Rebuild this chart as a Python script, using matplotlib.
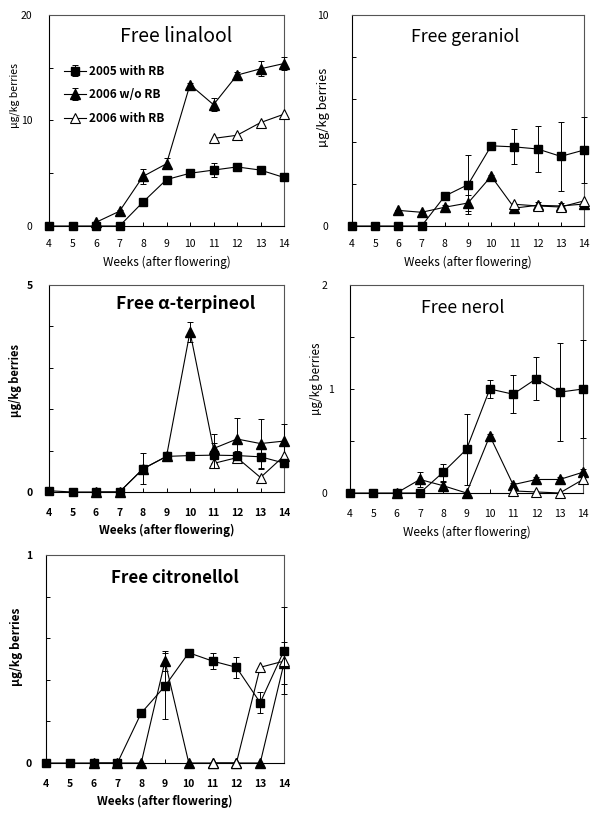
import matplotlib.pyplot as plt
import numpy as np

plt.rcParams['font.family'] = ['Noto Sans CJK JP', 'DejaVu Sans']

weeks = [4, 5, 6, 7, 8, 9, 10, 11, 12, 13, 14]
nan = np.nan

# Free linalool
lin_05 = [0, 0, 0, 0, 2.27, 4.4, 5.0, 5.3, 5.6, 5.3, 4.6]
lin_05_err = [0, 0, 0, 0, 0.1, 0.2, 0.2, 0.7, 0.2, 0.2, 0.2]
lin_06 = [nan, nan, 0.35, 1.4, 4.7, 5.9, 13.4, 11.5, 14.3, 14.9, 15.4]
lin_06_err = [0, 0, 0, 0.1, 0.7, 0.5, 0.2, 0.6, 0.3, 0.7, 0.6]
lin_06rb = [nan, nan, nan, nan, nan, nan, nan, 8.3, 8.6, 9.8, 10.6]

# Free geraniol
ger_05 = [0, 0, 0, 0, 1.42, 1.96, 3.8, 3.75, 3.65, 3.3, 3.6]
ger_05_err = [0, 0, 0, 0, 0.2, 1.4, 0.15, 0.83, 1.1, 1.65, 1.55]
ger_06 = [nan, nan, 0.74, 0.65, 0.89, 1.09, 2.36, 0.85, 0.98, 0.95, 1.04]
ger_06_err = [0, 0, 0, 0, 0.1, 0.4, 0.05, 0.05, 0.15, 0.15, 0.1]
ger_06rb = [nan, nan, nan, nan, nan, nan, nan, 1.03, 0.95, 0.9, 1.19]

# Free alpha-terpineol
ter_05 = [0.03, 0.0, 0.0, 0.0, 0.56, 0.86, 0.88, 0.89, 0.88, 0.85, 0.7]
ter_05_err = [0, 0, 0, 0, 0.37, 0.02, 0.02, 0.3, 0.1, 0.3, 0.1]
ter_06 = [nan, nan, 0.0, 0.0, 0.56, 0.86, 3.87, 1.05, 1.28, 1.17, 1.23]
ter_06_err = [0, 0, 0, 0, 0, 0, 0.24, 0.35, 0.5, 0.6, 0.42]
ter_06rb = [nan, nan, nan, nan, nan, nan, nan, 0.69, 0.83, 0.35, 0.87]

# Free nerol
ner_05 = [0, 0, 0, 0, 0.2, 0.42, 1.0, 0.95, 1.1, 0.97, 1.0]
ner_05_err = [0, 0, 0, 0, 0.08, 0.34, 0.09, 0.18, 0.21, 0.47, 0.47]
ner_06 = [nan, nan, 0.0, 0.13, 0.07, 0.0, 0.55, 0.08, 0.13, 0.13, 0.2]
ner_06_err = [0, 0, 0, 0.07, 0.04, 0, 0.02, 0.02, 0.02, 0.02, 0.03]
ner_06rb = [nan, nan, nan, nan, nan, nan, nan, 0.02, 0.01, 0.0, 0.13]

# Free citronellol
cit_05 = [0, 0, 0, 0, 0.24, 0.37, 0.53, 0.49, 0.46, 0.29, 0.54]
cit_05_err = [0, 0, 0, 0, 0.01, 0.16, 0.01, 0.04, 0.05, 0.05, 0.21]
cit_06 = [nan, nan, 0, 0, 0, 0.49, 0, 0, 0, 0, 0.48]
cit_06_err = [0, 0, 0, 0, 0, 0.05, 0, 0, 0, 0, 0.1]
cit_06rb = [nan, nan, nan, nan, nan, nan, nan, 0, 0, 0.46, 0.49]

titles = ['Free linalool', 'Free geraniol', 'Free α-terpineol', 'Free nerol', 'Free citronellol']
ymaxs = [20, 10, 5, 2, 1]
minor_steps = [5, 2, 1, 0.5, 0.2]
yticks = [[0, 10, 20], [0, 10], [0, 5], [0, 1, 2], [0, 1]]
series = [
    (lin_05, lin_05_err, lin_06, lin_06_err, lin_06rb),
    (ger_05, ger_05_err, ger_06, ger_06_err, ger_06rb),
    (ter_05, ter_05_err, ter_06, ter_06_err, ter_06rb),
    (ner_05, ner_05_err, ner_06, ner_06_err, ner_06rb),
    (cit_05, cit_05_err, cit_06, cit_06_err, cit_06rb),
]

# layout per panel (pixels): axes left, right, top, bottom
rects = [(49, 284, 15, 226), (352, 584, 15, 226), (49, 284, 285, 492),
         (350, 583, 285, 493), (46, 284, 555, 763)]
bold = [False, False, True, False, True]
title_pos = [(0.54, 0.90, 14), (0.487, 0.895, 12.8), (0.58, 0.91, 12.5),
             (0.485, 0.89, 12.8), (0.54, 0.89, 12.2)]
ylab = [(20, 0.62, 7.6), (330, 0.56, 9.3), (22, 0.54, 8.0), (323, 0.55, 8.4), (23, 0.56, 8.6)]
ypad = [12, 17, 11.5, 16.5, 10]
xpad = [9.5, 9.5, 11.5, 11.5, 11.5]

W, H = 590, 813
fig = plt.figure(figsize=(W / 100, H / 100), dpi=100)

for i in range(5):
    s05, e05, s06, e06, s06rb = series[i]
    l, r, t, b = rects[i]
    ax = fig.add_axes([l / W, 1 - b / H, (r - l) / W, (b - t) / H])
    fw = 'bold' if bold[i] else 'normal'

    ax.errorbar(weeks, s06, yerr=e06, color='black', marker='^', markersize=6.5,
                markerfacecolor='black', lw=0.8, elinewidth=0.7, capsize=2,
                capthick=0.7, label='2006 w/o RB', zorder=3, clip_on=False)
    ax.plot(weeks, s06rb, color='black', marker='^', markersize=6.5,
            markerfacecolor='white', markeredgewidth=0.8, lw=0.8,
            label='2006 with RB', zorder=4, clip_on=False)
    ax.errorbar(weeks, s05, yerr=e05, color='black', marker='s', markersize=5.5,
                lw=0.8, elinewidth=0.7, capsize=2, capthick=0.7,
                label='2005 with RB', zorder=5, clip_on=False)

    ax.set_xlim(4, 14)
    ax.set_ylim(0, ymaxs[i])
    ax.set_xticks(weeks)
    ax.set_xticklabels([str(w) for w in weeks], fontsize=7.5, fontweight=fw)
    ax.set_yticks(yticks[i])
    ax.set_yticklabels([str(v) for v in yticks[i]], fontsize=7.5, fontweight=fw)
    ax.set_yticks(np.arange(0, ymaxs[i] + 1e-9, minor_steps[i]), minor=True)
    ax.tick_params(axis='both', which='both', direction='in', length=3, width=0.7)
    ax.tick_params(axis='x', which='major', pad=xpad[i])
    ax.tick_params(axis='y', which='major', pad=ypad[i])
    if i == 3:
        # the middle label of the nerol axis sits closer to the spine
        ax.yaxis.get_major_ticks()[1].set_pad(12)
    for sp in ax.spines.values():
        sp.set_linewidth(0.8)
    ax.spines['right'].set_color('#555555')
    ax.spines['top'].set_color('#555555')

    ax.set_xlabel('Weeks (after flowering)', fontsize=8.5, fontweight=fw, labelpad=4.5)
    lx, ly, ls = ylab[i]
    ax.set_ylabel('µg/kg berries', fontsize=ls, fontweight=fw)
    ax.yaxis.set_label_coords((lx - l) / (r - l), ly)
    tx, ty, ts = title_pos[i]
    ax.text(tx, ty, titles[i], transform=ax.transAxes, ha='center', va='center',
            fontsize=ts, fontweight=fw)

    if i == 0:
        h, lab = ax.get_legend_handles_labels()
        order = [lab.index('2005 with RB'), lab.index('2006 w/o RB'), lab.index('2006 with RB')]
        ax.legend([h[k] for k in order], [lab[k] for k in order],
                  loc='upper left', bbox_to_anchor=(0.044, 0.787), frameon=False,
                  prop={'size': 8.5, 'weight': 'bold'}, handlelength=1.9,
                  handletextpad=0.2, labelspacing=0.9, borderaxespad=0)

fig.savefig('out.png', dpi=100)
